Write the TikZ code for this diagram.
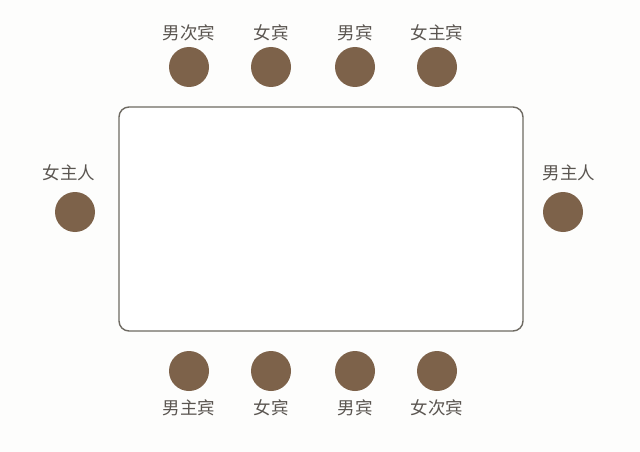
\documentclass[tikz,border=0pt]{standalone}
\usepackage{fontspec}
\newfontfamily\cjk{Noto Sans CJK SC}
\usetikzlibrary{backgrounds}
\definecolor{seatbrown}{HTML}{7D624A}
\definecolor{tableline}{HTML}{6E6A62}
\definecolor{labelgray}{HTML}{5A5550}
\definecolor{paper}{HTML}{FDFDFC}
\begin{document}
\begin{tikzpicture} [x=1pt,y=-1pt,
			background rectangle/.style={fill=paper},
			show background rectangle,inner frame sep=0pt,
			every label/.style={font=\cjk\fontsize{17.5}{17.5}\selectfont,text=labelgray,inner sep=0pt},
			seat/.style={circle,fill=seatbrown,minimum size=40pt,inner sep=0pt},
			dining table/.style={draw=tableline,line width=1.4pt,rounded corners=10pt,fill=white}]
		\useasboundingbox (0,0) rectangle (640,452);

		\draw [dining table] (119,107) rectangle (523,331);

		\node [seat, label={[label distance=6pt]above:男次宾}] (g2m) at (189,67) {};
		\node [seat, label={[label distance=6pt]above:女宾}] (gf1) at (271,67) {};
		\node [seat, label={[label distance=6pt]above:男宾}] (gm1) at (355,67) {};
		\node [seat, label={[label distance=6pt]above:女主宾}] (g1f) at (437,67) {};

		\node [seat, label={[label distance=11pt,xshift=-6pt]above:女主人}] (hostess) at (75,212) {};
		\node [seat, label={[label distance=11pt,xshift=6pt]above:男主人}] (host) at (563,212) {};

		\node [seat, label={[label distance=8pt]below:男主宾}] (g1m) at (189,371) {};
		\node [seat, label={[label distance=8pt]below:女宾}] (gf2) at (271,371) {};
		\node [seat, label={[label distance=8pt]below:男宾}] (gm2) at (355,371) {};
		\node [seat, label={[label distance=8pt]below:女次宾}] (g2f) at (437,371) {};

\end{tikzpicture}
\end{document}
